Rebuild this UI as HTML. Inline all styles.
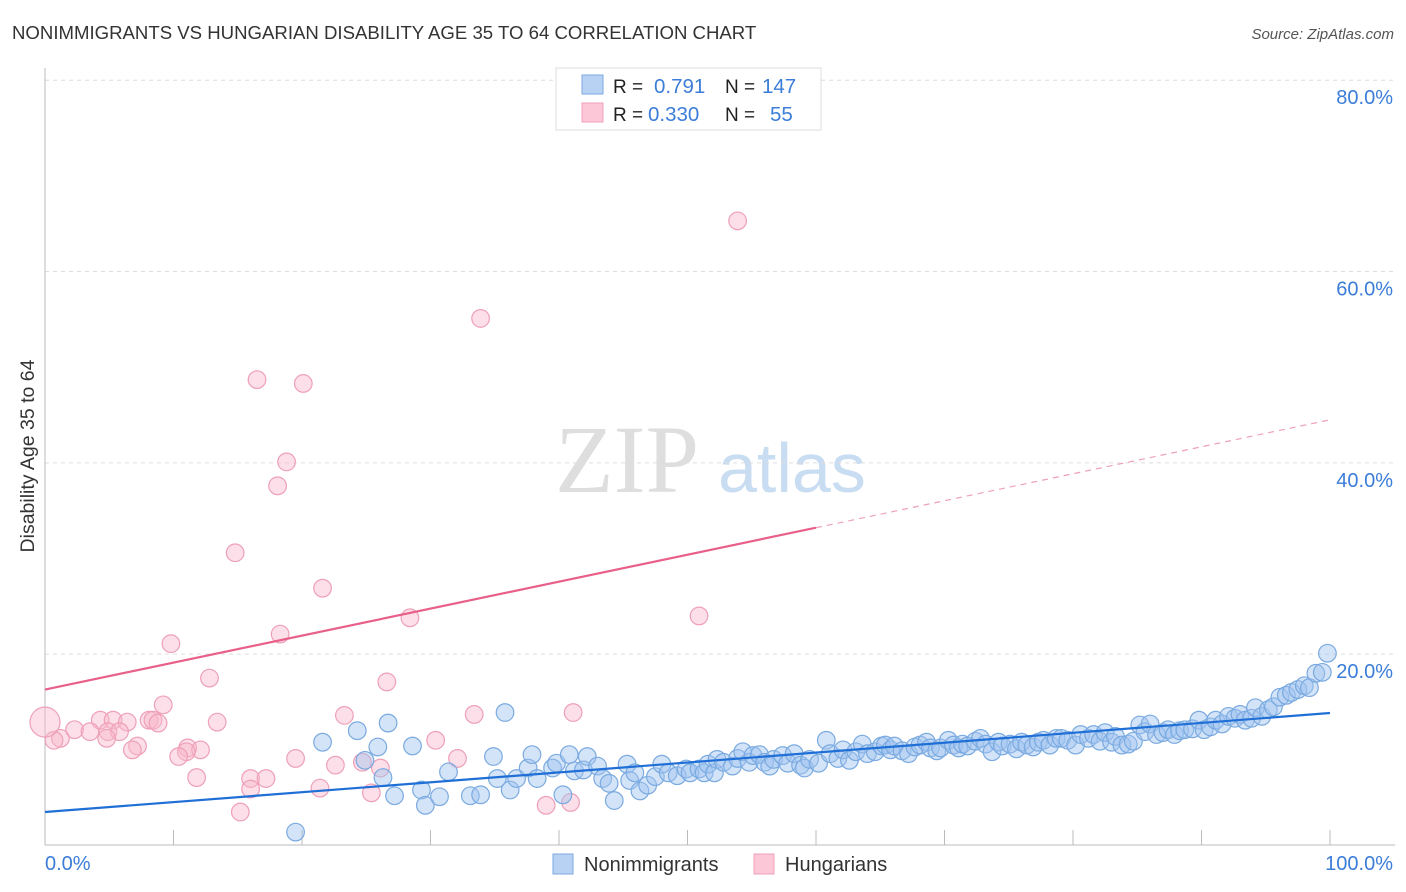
<!DOCTYPE html>
<html><head><meta charset="utf-8"><style>
body{margin:0;background:#fff;font-family:"Liberation Sans",sans-serif}
svg{display:block}
</style></head><body>
<svg id="c" width="1406" height="892" xmlns="http://www.w3.org/2000/svg">
<text x="12" y="39" font-size="18.6" fill="#333">NONIMMIGRANTS VS HUNGARIAN DISABILITY AGE 35 TO 64 CORRELATION CHART</text>
<text x="1394" y="39" font-size="15" fill="#555" font-style="italic" text-anchor="end">Source: ZipAtlas.com</text>
<text transform="translate(34,456) rotate(-90)" font-size="19.5" fill="#333" text-anchor="middle">Disability Age 35 to 64</text>
<g>
<text x="555" y="492" font-family="Liberation Serif,serif" font-size="96" fill="#dedede">ZIP</text>
<text x="718" y="492" font-size="70" fill="#c8dcf2">atlas</text>
</g>
<g id="grid"></g>
<g id="axes"></g>
<g id="pts"></g>
<g id="lines"></g>
<g>
<rect x="556" y="68" width="265" height="62" fill="#fff" stroke="#ddd"/>
<rect x="582" y="75" width="21" height="19" fill="#b8d2f4" stroke="#7aaae0"/>
<rect x="582" y="103" width="21" height="19" fill="#fcc8d8" stroke="#eea0b8"/>
<text x="613" y="93" font-size="19" fill="#222">R = </text><text x="654" y="93" font-size="20.5" fill="#3b7dd8">0.791</text>
<text x="725" y="93" font-size="19" fill="#222">N = </text><text x="762" y="93" font-size="20.5" fill="#3b7dd8">147</text>
<text x="613" y="121" font-size="19" fill="#222">R = </text><text x="648" y="121" font-size="20.5" fill="#3b7dd8">0.330</text>
<text x="725" y="121" font-size="19" fill="#222">N = </text><text x="770" y="121" font-size="20.5" fill="#3b7dd8">55</text>
</g>
<g>
<rect x="553" y="854" width="20" height="20" fill="#b8d2f4" stroke="#7aaae0"/>
<text x="584" y="871" font-size="20" fill="#333">Nonimmigrants</text>
<rect x="754" y="854" width="20" height="20" fill="#fcc8d8" stroke="#eea0b8"/>
<text x="785" y="871" font-size="20" fill="#333">Hungarians</text>
</g>
</svg>
<script>
const yTicks=[20,40,60,80];
const xTickLabels=["0.0%","100.0%"];
const blueX=[19.5,21.6,24.3,25.9,26.7,28.6,35.8,24.9,26.3,27.2,29.3,29.6,30.7,31.4,33.1,33.9,34.9,35.2,36.2,36.7,37.6,37.9,38.3,39.5,39.8,40.3,40.8,41.2,41.9,42.2,43.0,43.4,43.9,44.3,45.3,45.5,45.9,46.3,46.9,47.5,48.0,48.5,49.2,49.9,50.2,50.9,51.3,51.6,52.1,52.3,52.8,53.5,53.9,54.3,54.8,55.1,55.6,56.0,56.4,56.7,57.4,57.8,58.3,58.8,59.1,59.5,60.2,60.8,61.1,61.7,62.1,62.6,63.1,63.6,64.0,64.6,65.1,65.4,65.8,66.1,66.7,67.2,67.7,68.1,68.6,68.9,69.4,69.7,70.3,70.7,71.1,71.4,71.8,72.4,72.8,73.2,73.7,74.2,74.5,75.1,75.6,76.0,76.4,76.9,77.3,77.7,78.2,78.7,79.1,79.6,80.2,80.6,81.2,81.6,82.1,82.5,83.0,83.3,83.8,84.3,84.7,85.2,85.6,86.0,86.5,87.0,87.4,87.9,88.3,88.7,89.3,89.8,90.2,90.7,91.1,91.6,92.1,92.6,93.0,93.4,93.9,94.2,94.7,95.2,95.6,96.1,96.6,97.0,97.5,98.0,98.4,98.9,99.4,99.8];
const blueY=[1.4,10.8,12.0,10.3,12.8,10.4,13.9,8.9,7.1,5.2,5.8,4.2,5.1,7.7,5.2,5.3,9.3,7.0,5.8,7.0,8.1,9.5,7.0,8.1,8.6,5.3,9.5,7.8,7.9,9.3,8.3,7.0,6.5,4.7,8.5,6.8,7.6,5.7,6.3,7.2,8.5,7.6,7.3,8.0,7.6,8.0,7.6,8.5,7.6,9.0,8.7,8.3,9.1,9.8,8.7,9.4,9.5,8.7,8.3,9.0,9.4,8.6,9.6,8.4,8.1,9.0,8.6,11.0,9.6,9.1,10.0,8.9,9.8,10.6,9.6,9.8,10.4,10.5,10.0,10.4,9.9,9.6,10.3,10.5,10.8,10.2,9.9,10.2,11.0,10.5,10.2,10.6,10.4,10.9,11.2,10.6,9.8,10.8,10.4,10.6,10.1,10.8,10.5,10.3,10.8,11.0,10.5,11.2,11.2,11.0,10.5,11.6,11.2,11.6,10.9,11.8,10.8,11.4,10.5,10.6,10.9,12.6,11.9,12.7,11.6,11.8,12.1,11.6,12.0,12.1,12.2,13.1,12.1,12.4,13.1,12.7,13.5,13.3,13.7,13.1,13.3,14.4,13.5,14.2,14.5,15.5,15.7,16.0,16.3,16.7,16.5,18.0,18.1,20.1];
const pinkX=[53.9,33.9,16.5,20.1,18.8,18.1,14.8,21.6,28.4,50.9,18.3,9.8,12.8,26.6,9.2,23.3,33.4,41.1,13.4,4.3,5.3,6.4,8.1,8.4,8.8,2.3,3.5,4.9,5.8,1.2,0.7,4.8,7.2,11.1,12.1,6.8,11.0,30.4,32.1,19.5,22.6,10.4,24.7,26.1,11.8,16.0,17.2,21.4,16.0,25.4,39.0,40.9,15.2,0.0];
const pinkY=[65.3,55.1,48.7,48.3,40.1,37.6,30.6,26.9,23.8,24.0,22.1,21.1,17.5,17.1,14.7,13.6,13.7,13.9,12.9,13.1,13.1,12.9,13.1,13.1,12.8,12.1,11.9,11.9,11.9,11.2,11.0,11.2,10.4,10.2,10.0,10.0,9.8,11.0,9.1,9.1,8.4,9.3,8.7,8.1,7.1,7.0,7.0,6.0,5.9,5.5,4.2,4.5,3.5,12.9];
const blueLine=[3.5,13.85];
const pinkLine=[16.3,44.5];
const pinkSolidEnd=60;
const NS="http://www.w3.org/2000/svg";
const sx=v=>45+v*12.85, sy=v=>845.5-v*9.566;
function mk(t,a,p){const e=document.createElementNS(NS,t);for(const k in a)e.setAttribute(k,a[k]);p.appendChild(e);return e;}
const grid=document.getElementById('grid'),axes=document.getElementById('axes'),pts=document.getElementById('pts'),lines=document.getElementById('lines');
yTicks.forEach(t=>{
 const l=mk('line',{x1:45,x2:1395,y1:sy(t),y2:sy(t),stroke:'#ddd','stroke-dasharray':'4,4'},grid);
 
 
 const tx=mk('text',{x:1393,y:sy(t)+24,'font-size':20,fill:'#3b7dd8','text-anchor':'end'},axes);tx.textContent=t.toFixed(1)+'%';
 
 
});
mk('line',{x1:45,x2:45,y1:68,y2:845,stroke:'#bbb'},axes);
mk('line',{x1:45,x2:1395,y1:845,y2:845,stroke:'#bbb'},axes);
for(let i=0;i<=10;i++){mk('line',{x1:sx(i*10),x2:sx(i*10),y1:830,y2:845,stroke:'#bbb'},axes);}
const xl0=mk('text',{x:45,y:870,'font-size':20,fill:'#3b7dd8'},axes);xl0.textContent=xTickLabels[0];


const xl1=mk('text',{x:1393,y:870,'font-size':20,fill:'#3b7dd8','text-anchor':'end'},axes);xl1.textContent=xTickLabels[1];


pinkX.forEach((x,i)=>{
 const c=mk('circle',{cx:sx(x),cy:sy(pinkY[i]),r:i==pinkX.length-1?15:8.8,fill:'rgba(248,185,205,0.45)',stroke:'#eea0b8','stroke-width':1.2},pts);
 
 
});
blueX.forEach((x,i)=>{
 const c=mk('circle',{cx:sx(x),cy:sy(blueY[i]),r:8.8,fill:'rgba(160,195,240,0.45)',stroke:'#7aaae0','stroke-width':1.2},pts);
 
 
});
const bl=mk('line',{x1:sx(0),y1:sy(blueLine[0]),x2:sx(100),y2:sy(blueLine[1]),stroke:'#1f6fd6','stroke-width':2.2},lines);


const pm=pinkLine[0]+(pinkLine[1]-pinkLine[0])*pinkSolidEnd/100;
const pl=mk('line',{x1:sx(0),y1:sy(pinkLine[0]),x2:sx(pinkSolidEnd),y2:sy(pm),stroke:'#e8608a','stroke-width':2.2},lines);


const pd=mk('line',{x1:sx(pinkSolidEnd),y1:sy(pm),x2:sx(100),y2:sy(pinkLine[1]),stroke:'#eea0b8','stroke-width':1.2,'stroke-dasharray':'6,5'},lines);


</script>
</body></html>
